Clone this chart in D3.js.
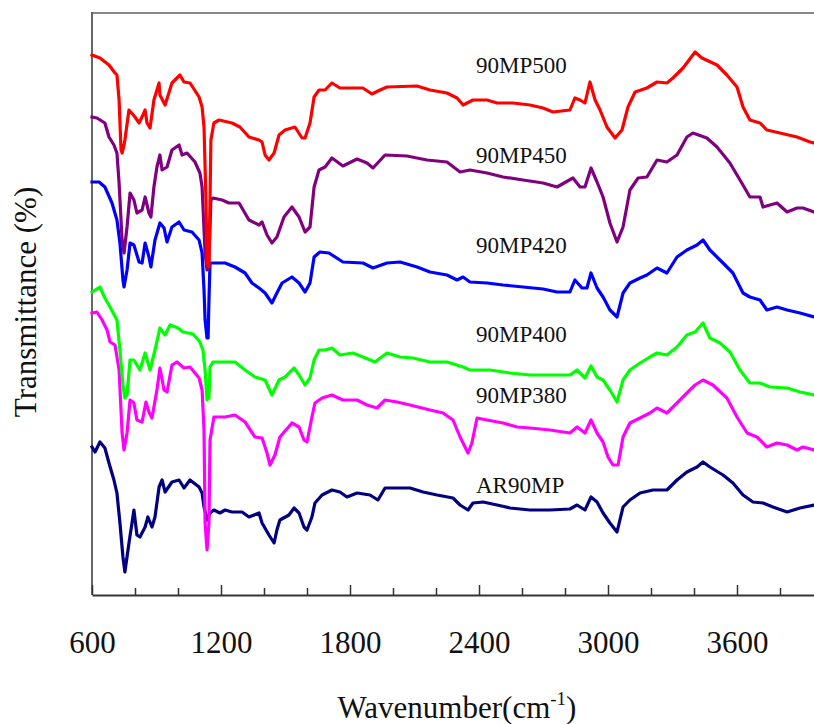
<!DOCTYPE html>
<html>
<head>
<meta charset="utf-8">
<script src="https://cdn.jsdelivr.net/npm/d3@7/dist/d3.min.js"></script>
<style>
  html, body { margin: 0; padding: 0; background: #fff; }
  svg { display: block; }
</style>
</head>
<body>
<svg id="chart" width="814" height="724"></svg>
<script>
// FTIR spectra, [wavenumber (cm^-1), offset transmittance]
const sAR90MP = [[600,29.6],[614,28.6],[637,30.6],[660,29.4],[679,26.4],[702,23],[716,20.4],[730,14.4],[744,7.6],[753,4.6],[772,10.4],[786,14.4],[795,17],[809,12],[823,11.6],[847,13.6],[860,15.6],[879,13.6],[893,15.6],[912,21.6],[926,23],[940,20.6],[972,22.6],[1005,23],[1028,21.4],[1056,23],[1098,21.6],[1112,20.4],[1121,17.6],[1135,15],[1149,16.4],[1167,17],[1195,16.4],[1219,17],[1251,16.6],[1298,16.6],[1330,15.6],[1377,16.4],[1391,14.4],[1423,12],[1447,10.4],[1460,13],[1474,15],[1516,16],[1540,17.4],[1563,16.4],[1586,13.6],[1600,13],[1623,15.6],[1637,18.4],[1670,20],[1716,21],[1753,20.6],[1786,19.6],[1833,20.4],[1893,20],[1930,19],[1963,21.4],[2019,21.4],[2079,21.4],[2140,20.6],[2205,20],[2279,19.4],[2312,18],[2349,17],[2372,18.4],[2419,18.6],[2484,18],[2544,17.4],[2637,17],[2730,17],[2823,17.2],[2856,18],[2893,17],[2921,19.6],[2949,18.6],[2977,16.4],[3009,14.4],[3042,12.6],[3070,17.6],[3102,19],[3149,20.4],[3209,21],[3274,21],[3321,23],[3367,24.6],[3414,25.6],[3442,26.6],[3474,25.6],[3535,24],[3581,22.4],[3628,20],[3674,18.6],[3721,18.4],[3767,17.6],[3833,16.6],[3893,17.4],[3958,18],[4000,18]];

const s90MP380 = [[600,56.4],[623,56.6],[647,55],[670,53],[684,50.6],[707,50],[726,45],[740,32.4],[749,29],[763,32.4],[777,39],[795,38.4],[809,35],[833,34.6],[851,38.6],[865,36.6],[879,35.4],[902,41],[916,45.4],[935,41],[949,40.6],[972,46],[995,46.6],[1028,45.4],[1056,45.6],[1098,43.4],[1112,41],[1121,33],[1126,14.4],[1135,9],[1144,14.4],[1149,31],[1167,35.6],[1219,35.6],[1265,36],[1312,34.6],[1358,31.6],[1391,31.4],[1414,28.4],[1428,26],[1451,28],[1474,31.6],[1530,34.4],[1563,33.6],[1586,31],[1600,30.6],[1623,35.6],[1637,38.4],[1670,39.4],[1716,40],[1767,39],[1833,39],[1879,38],[1926,37.4],[1963,39],[2019,38.6],[2079,38],[2172,37],[2233,36.4],[2279,35],[2312,31.6],[2335,29.6],[2349,28.4],[2367,30.4],[2391,35.4],[2437,35],[2512,34.4],[2577,33.6],[2637,33.4],[2730,33],[2823,32.4],[2856,33.6],[2893,32.4],[2921,35],[2949,32.4],[2977,30.6],[3000,27.6],[3023,26],[3047,26],[3070,31.6],[3102,34.4],[3149,35.4],[3195,36.4],[3228,37.4],[3274,36.4],[3321,38.4],[3367,40.4],[3405,42],[3442,43],[3488,42],[3553,39.4],[3600,35.6],[3647,32.4],[3693,31.6],[3739,29.6],[3786,30.4],[3833,30],[3879,29],[3907,29.6],[3958,29],[4000,28.8]];

const s90MP400 = [[600,60.6],[637,61.6],[660,59.4],[684,57.6],[716,55],[730,49],[744,42],[753,39.4],[763,40],[777,47],[795,47],[823,45],[847,48.4],[870,45],[893,49],[916,53.4],[940,52],[963,54],[1000,53.4],[1023,52.6],[1070,52.2],[1102,50.6],[1116,49],[1126,45],[1135,39],[1144,39.4],[1149,45.6],[1163,46.6],[1219,46.6],[1265,46.6],[1312,45],[1358,43.6],[1405,43],[1437,40],[1470,43],[1498,43.6],[1540,45.4],[1563,44],[1591,42],[1614,43.4],[1633,47],[1656,49],[1684,49],[1716,49.4],[1753,48],[1814,48.4],[1860,47.6],[1916,46.6],[1972,48.4],[2033,47.6],[2093,47.4],[2172,46.6],[2251,46.6],[2326,45.6],[2358,45],[2451,45],[2544,44.4],[2637,44],[2730,44],[2823,44],[2856,45],[2893,43.4],[2921,45.8],[2949,43.6],[2977,43],[3009,41],[3042,38.6],[3070,43],[3102,45],[3149,46.4],[3195,47.6],[3228,48.4],[3274,48],[3321,49.6],[3367,52],[3405,52.6],[3442,54.4],[3474,51.4],[3521,50.4],[3567,48.6],[3614,45],[3660,42.4],[3707,42.4],[3753,41.6],[3833,41.4],[3893,40.6],[3958,40],[4000,39.8]];

const s90MP420 = [[600,82.6],[633,82.6],[660,81.6],[693,78.4],[716,75],[730,70.4],[744,63],[749,61.6],[763,65],[777,70.4],[795,70],[819,66.6],[833,66.4],[847,70.4],[865,67.6],[874,65.6],[893,71],[916,74.4],[935,73.4],[949,70.6],[972,73.6],[1005,74.6],[1028,73],[1065,72.6],[1098,71],[1112,68.4],[1121,61],[1126,55],[1135,51.4],[1140,51.4],[1144,59],[1149,66.4],[1172,66.4],[1219,66.4],[1265,65.6],[1312,64.4],[1344,62.4],[1377,61.4],[1405,60.4],[1437,58.4],[1460,60.4],[1484,62.4],[1530,63.6],[1563,62.4],[1591,60.6],[1614,62.4],[1633,67.6],[1660,68.6],[1702,68.4],[1767,66.6],[1860,66.4],[1907,65.4],[1972,66.4],[2033,66.6],[2112,65.6],[2172,64.6],[2251,64],[2298,63],[2326,63.6],[2358,62.6],[2437,62.4],[2512,62],[2605,61.6],[2698,61.2],[2763,60.6],[2823,60.6],[2846,63],[2879,61.4],[2902,61.4],[2921,64.4],[2949,61.4],[2977,59.6],[3009,57],[3042,55.6],[3070,60.4],[3102,62.4],[3149,63.4],[3181,64],[3228,65.4],[3274,64.4],[3321,67.6],[3367,69],[3414,70],[3442,71],[3474,69],[3535,66.4],[3581,64.4],[3628,60.4],[3660,59.6],[3707,59],[3739,57],[3786,57.6],[3833,57],[3893,56.4],[3958,55.6],[4000,55.4]];

const s90MP450 = [[600,95.6],[623,95.4],[660,94.4],[679,91.6],[702,90],[716,88.4],[726,82.4],[740,71],[749,68.4],[763,73.6],[777,80.4],[795,79],[809,76.4],[833,77],[847,79.6],[865,76.4],[874,75.6],[888,81.6],[902,85.6],[916,88],[926,85],[949,85.6],[972,89],[1005,90],[1019,88],[1042,88.4],[1079,86.6],[1102,84.4],[1112,81.6],[1126,68.4],[1135,65],[1144,67],[1153,79],[1163,79.4],[1205,79],[1237,78.4],[1284,78.4],[1330,75],[1377,74],[1391,74.6],[1414,72],[1437,70.4],[1460,71.6],[1493,75.6],[1530,77.6],[1563,75.6],[1591,72.6],[1614,73.6],[1633,81.6],[1656,85],[1684,85.6],[1716,87.4],[1767,85.8],[1833,87.2],[1879,86.4],[1907,85.4],[1963,88],[2065,87.8],[2158,87],[2251,86.6],[2312,84.6],[2358,85],[2437,84.4],[2512,83.6],[2605,83],[2698,82.4],[2763,81.6],[2837,83.4],[2870,81.6],[2893,81.6],[2921,85.4],[2949,82.6],[2977,79.6],[3009,74.4],[3042,70.6],[3070,73.6],[3102,81],[3140,83.4],[3181,83.6],[3228,87],[3274,86.6],[3321,88],[3367,91.6],[3395,92.4],[3460,91.4],[3507,89.6],[3567,86.4],[3614,83],[3660,79.6],[3707,79.6],[3721,77.6],[3786,78.4],[3833,76.6],[3879,77.4],[3907,77.4],[3958,76.6],[4000,76.4]];

const s90MP500 = [[600,108],[637,107.4],[679,106],[707,104.4],[716,104],[726,99],[735,89],[740,88.4],[749,90],[753,91],[772,97],[800,95.6],[819,94.4],[837,96],[847,97],[856,94.4],[870,93.4],[888,99],[912,102.4],[916,100],[940,98],[972,102.4],[1009,104],[1028,102.6],[1056,102.4],[1098,99.6],[1112,97.6],[1121,93.6],[1130,79],[1135,66.4],[1144,65.6],[1149,79],[1153,91],[1167,94.4],[1191,95],[1251,94.4],[1288,93.6],[1330,91.6],[1377,91],[1391,90.6],[1405,88],[1423,87],[1447,88.4],[1470,92],[1498,93],[1544,93.6],[1577,91.4],[1591,91.4],[1614,94.4],[1633,99.6],[1656,101],[1684,101],[1716,102.4],[1753,101.4],[1860,101.4],[1902,100.2],[1940,101],[1972,101.6],[2112,101.8],[2172,101],[2251,100.4],[2298,99.4],[2326,98],[2372,99],[2437,99],[2484,98.4],[2558,98.4],[2637,98],[2698,97.4],[2744,96.6],[2823,97],[2846,99.4],[2870,99],[2893,98.4],[2916,102.6],[2940,99],[2963,97],[2995,93.6],[3033,91.4],[3065,93],[3093,97.6],[3126,100.6],[3181,101.4],[3228,102.6],[3274,102.4],[3302,103.4],[3349,105.4],[3405,108.6],[3437,107.4],[3507,106],[3553,104],[3600,101.6],[3628,97.6],[3660,95],[3707,94.4],[3739,93],[3800,92.4],[3879,91.6],[3940,90.6],[3958,90.4],[4000,90]];

// Series names, line colours and label baselines (same offset-transmittance units)
const seriesNames  = ["AR90MP", "90MP380", "90MP400", "90MP420", "90MP450", "90MP500"];
const seriesData   = [sAR90MP, s90MP380, s90MP400, s90MP420, s90MP450, s90MP500];
const seriesColors = ["#000080", "#FF00FF", "#00FF00", "#0000FF", "#800080", "#FF0000"];
const labelY       = [20.4, 38.4, 50.6, 68.4, 86.4, 104.4];
const labelWn      = 2400;

const majorTicks = [600, 1200, 1800, 2400, 3000, 3600];
const minorTicks = d3.range(600, 4001, 200).filter(v => !majorTicks.includes(v));

const SERIF = "'Liberation Serif', 'Times New Roman', Times, serif";

const svg = d3.select("#chart");
const mLeft = 92, mRight = 823, mTop = 12, mBottom = 595;

const x = d3.scaleLinear().domain([600, 4000]).range([mLeft, mRight]);
const y = d3.scaleLinear().domain([0, 116.6]).range([mBottom, mTop]);

// frame: top border and left axis line
svg.append("line").attr("x1", mLeft).attr("x2", 814).attr("y1", mTop + 1).attr("y2", mTop + 1)
  .attr("stroke", "#888").attr("stroke-width", 2);
svg.append("line").attr("x1", mLeft).attr("x2", mLeft).attr("y1", mTop).attr("y2", mBottom)
  .attr("stroke", "#666").attr("stroke-width", 2);

// spectra
const line = d3.line().x(d => x(d[0])).y(d => y(d[1]));
svg.append("g").selectAll("path")
  .data(seriesData)
  .join("path")
  .attr("d", line)
  .attr("fill", "none")
  .attr("stroke", (d, i) => seriesColors[i])
  .attr("stroke-width", 3.2)
  .attr("stroke-linejoin", "round")
  .attr("stroke-linecap", "square");

// series labels
svg.append("g").selectAll("text")
  .data(seriesNames)
  .join("text")
  .attr("x", x(labelWn) - 3)
  .attr("y", (d, i) => y(labelY[i]))
  .style("font-size", "23px")
  .text(d => d);

// bottom axis: minor ticks
svg.append("g")
  .attr("transform", `translate(0,${mBottom})`)
  .call(d3.axisBottom(x).tickValues(minorTicks).tickSize(-7).tickFormat(""))
  .call(g => g.select(".domain").remove())
  .call(g => g.selectAll(".tick line").attr("stroke", "#333").attr("stroke-width", 1.5));

// bottom axis: major ticks with labels
svg.append("g")
  .attr("transform", `translate(0,${mBottom})`)
  .call(d3.axisBottom(x).tickValues(majorTicks).tickSize(-10).tickSizeOuter(0).tickPadding(36).tickFormat(d3.format("d")))
  .call(g => g.select(".domain").attr("stroke", "#333").attr("stroke-width", 2))
  .call(g => g.selectAll(".tick line").attr("stroke", "#333").attr("stroke-width", 1.5))
  .call(g => g.selectAll(".tick text").style("font-size", "31px"));

// axis titles
const xt = svg.append("text")
  .attr("x", 457).attr("y", 718)
  .attr("text-anchor", "middle")
  .style("font-size", "31px");
xt.append("tspan").text("Wavenumber(cm");
xt.append("tspan").style("font-size", "19px").attr("dy", -13).text("-1");
xt.append("tspan").attr("dy", 13).text(")");

svg.append("text")
  .attr("transform", "translate(36,302) rotate(-90)")
  .attr("text-anchor", "middle")
  .style("font-size", "31px")
  .text("Transmittance (%)");

// one serif face for every label
svg.selectAll("text").style("font-family", SERIF).style("fill", "#111");
</script>
</body>
</html>
